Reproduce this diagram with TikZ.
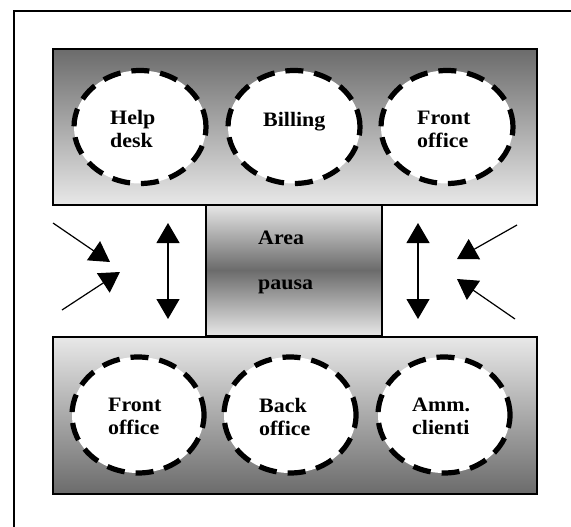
\documentclass[tikz,border=0pt]{standalone}
\usepackage{fontspec}
\setmainfont{Liberation Serif}[FakeStretch=1.07]
\usetikzlibrary{arrows.meta,shapes.geometric}
\definecolor{darkg}{gray}{0.42}
\definecolor{lightg}{gray}{0.91}
\tikzset{
  zonebox/.style={draw=black, line width=2.6pt, rectangle, inner sep=0pt},
  room/.style={ellipse, draw=black, fill=white, line width=5.2pt,
    dash pattern=on 18pt off 11pt, inner sep=0pt, minimum width=132pt},
  lbl/.style={font=\fontsize{20.5}{23}\selectfont\bfseries, align=left, inner sep=0pt, anchor=west},
  tip/.style={Triangle[length=20pt,width=23pt]},
  arr/.style={-{Triangle[length=20pt,width=23pt]}, line width=1.2pt},
  darr/.style={{Triangle[length=20pt,width=23pt]}-{Triangle[length=20pt,width=23pt]}, line width=1.2pt}
}
\begin{document}
\begin{tikzpicture}[x=1pt,y=-1pt]
\useasboundingbox (0,0) rectangle (571,527);
\draw[line width=1.2pt] (14,527) -- (14,11) -- (571,11);

% middle box
\node[zonebox, minimum width=176pt, minimum height=132pt,
  top color=lightg, bottom color=lightg, middle color=darkg] (pausa) at (294,270) {};
% top and bottom boxes
\node[zonebox, minimum width=484pt, minimum height=156pt,
  top color=darkg, bottom color=lightg] (topz) at (295,127) {};
\node[zonebox, minimum width=484pt, minimum height=157pt,
  top color=lightg, bottom color=darkg] (botz) at (295,415.5) {};

% rooms top
\node[room, minimum height=113pt] (e1) at (140,127) {};
\node[room, minimum height=113pt] (e2) at (294,127) {};
\node[room, minimum height=113pt] (e3) at (447,127) {};
% rooms bottom
\node[room, minimum height=116pt] (e4) at (138,415) {};
\node[room, minimum height=116pt] (e5) at (290,415) {};
\node[room, minimum height=116pt] (e6) at (444,415) {};

% labels
\node[lbl] (t1) at (110,129) {Help\\desk};
\node[lbl] (t2) at (263,122) {Billing};
\node[lbl] (t3) at (417,129.5) {Front\\office};
\node[lbl] (t4) at (108,416.5) {Front\\office};
\node[lbl] (t5) at (259,416.5) {Back\\office};
\node[lbl] (t6) at (412,416.5) {Amm.\\clienti};
\node[lbl] (t7) at (258,238) {Area};
\node[lbl] (t8) at (258,287) {pausa};

% arrows
\coordinate (a1s) at (53,223);  \coordinate (a1e) at (110,262);
\coordinate (a2s) at (62,310);  \coordinate (a2e) at (120,272);
\coordinate (a3s) at (517,225); \coordinate (a3e) at (457,259);
\coordinate (a4s) at (515,319); \coordinate (a4e) at (457,279);
\coordinate (v1a) at (168,223); \coordinate (v1b) at (168,319);
\coordinate (v2a) at (418,223); \coordinate (v2b) at (418,319);
\draw[arr] (a1s) -- (a1e);
\draw[arr] (a2s) -- (a2e);
\draw[arr] (a3s) -- (a3e);
\draw[arr] (a4s) -- (a4e);
\draw[darr] (v1a) -- (v1b);
\draw[darr] (v2a) -- (v2b);
\end{tikzpicture}
\end{document}
